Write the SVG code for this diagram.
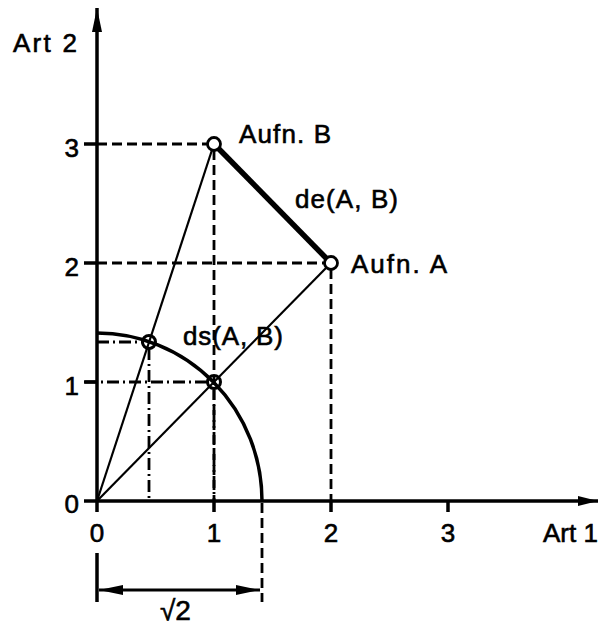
<svg xmlns="http://www.w3.org/2000/svg" width="601" height="630" viewBox="0 0 601 630">
<defs>
<style>
text{font-family:"Liberation Sans",Arial,sans-serif;fill:#000;stroke:#000;stroke-width:0.6}
.lbl{font-size:26px}
.num{font-size:26px}
.ax{stroke:#000;stroke-width:3.5;fill:none}
.thin{stroke:#000;stroke-width:2.2;fill:none}
.dash{stroke:#000;stroke-width:2.8;fill:none;stroke-dasharray:10 5}
.dd{stroke:#000;stroke-width:2.8;fill:none;stroke-dasharray:12 4 2 4}
.pt{fill:#fff;stroke:#000;stroke-width:2.8}
.ipt{fill:none;stroke:#000;stroke-width:3}
</style>
<marker id="ah" viewBox="0 0 20 10" refX="20" refY="5" markerWidth="20" markerHeight="10" markerUnits="userSpaceOnUse" orient="auto-start-reverse">
<path d="M0,0 L20,5 L0,10 Z" fill="#000"/>
</marker>
<marker id="ahs" viewBox="0 0 24 10" refX="24" refY="5" markerWidth="24" markerHeight="10" markerUnits="userSpaceOnUse" orient="auto-start-reverse">
<path d="M0,0 L24,5 L0,10 Z" fill="#000"/>
</marker>
</defs>
<g id="connectors">
<line class="ax" x1="97" y1="512" x2="97" y2="8" marker-end="url(#ahs)"/>
<line class="ax" x1="84" y1="501" x2="598" y2="501" marker-end="url(#ah)"/>
<line class="ax" x1="84" y1="144" x2="97" y2="144"/>
<line class="ax" x1="84" y1="263" x2="97" y2="263"/>
<line class="ax" x1="84" y1="382" x2="97" y2="382"/>
<line class="ax" x1="214" y1="501" x2="214" y2="512"/>
<line class="ax" x1="331" y1="501" x2="331" y2="512"/>
<line class="ax" x1="448" y1="501" x2="448" y2="512"/>
<line class="dash" x1="97" y1="144" x2="208" y2="144"/>
<line class="dash" x1="214" y1="150" x2="214" y2="501"/>
<line class="dash" x1="97" y1="263" x2="325" y2="263"/>
<line class="dash" x1="331" y1="269" x2="331" y2="501"/>
<line class="dd" x1="85" y1="382" x2="208" y2="382"/>
<line class="dd" x1="214" y1="388" x2="214" y2="501"/>
<line class="dd" x1="97" y1="342" x2="143" y2="342"/>
<line class="dd" x1="149" y1="348" x2="149" y2="501"/>
<line class="thin" x1="97" y1="501" x2="212" y2="150"/>
<line class="thin" x1="97" y1="501" x2="327" y2="267"/>
<line stroke="#000" stroke-width="5.5" x1="218" y1="148" x2="327" y2="259"/>
<path d="M97,333 A165,168 0 0 1 262,501" class="ax"/>
<line class="ax" x1="97" y1="553" x2="97" y2="602"/>
<line class="dash" x1="262" y1="503" x2="262" y2="602"/>
<line stroke="#000" stroke-width="2.8" x1="99" y1="590" x2="260" y2="590" marker-start="url(#ahs)" marker-end="url(#ahs)"/>
</g>
<g id="pointB"><circle class="pt" cx="214" cy="144" r="6.5"/></g>
<g id="pointA"><circle class="pt" cx="331" cy="263" r="6.5"/></g>
<g id="pointS1"><circle class="ipt" cx="214" cy="382" r="6.5"/></g>
<g id="pointS2"><circle class="ipt" cx="149" cy="342" r="6.5"/></g>
<g id="labels">
<text class="lbl" x="13" y="52" textLength="64">Art 2</text>
<text class="lbl" x="543" y="542" textLength="55">Art 1</text>
<text class="lbl" x="239" y="143" textLength="92">Aufn. B</text>
<text class="lbl" x="351" y="273" textLength="96">Aufn. A</text>
<text class="lbl" x="295" y="208" textLength="103">de(A, B)</text>
<text class="lbl" x="183" y="345" textLength="100">ds(A, B)</text>
<text x="160" y="620" style="font-size:28px">√2</text>
<text class="num" x="79" y="157" text-anchor="end">3</text>
<text class="num" x="79" y="276" text-anchor="end">2</text>
<text class="num" x="79" y="395" text-anchor="end">1</text>
<text class="num" x="79" y="513" text-anchor="end">0</text>
<text class="num" x="97" y="542" text-anchor="middle">0</text>
<text class="num" x="214" y="542" text-anchor="middle">1</text>
<text class="num" x="331" y="542" text-anchor="middle">2</text>
<text class="num" x="448" y="542" text-anchor="middle">3</text>
</g>
</svg>
